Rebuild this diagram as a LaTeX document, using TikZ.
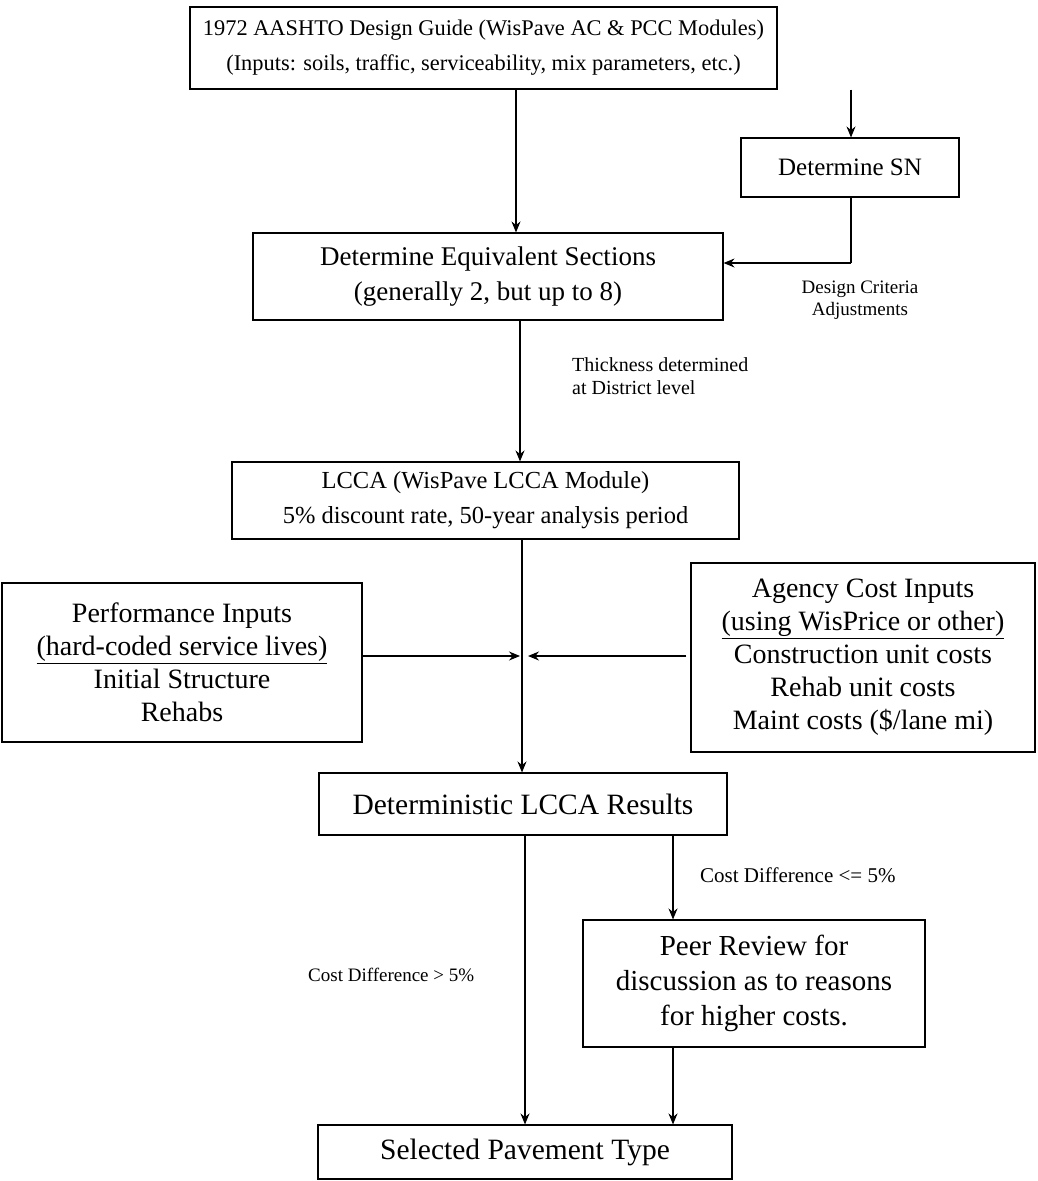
\documentclass[tikz,border=0pt]{standalone}
\usepackage{fontspec}
\setmainfont{Liberation Serif}
\usetikzlibrary{arrows.meta}

\tikzset{
  box/.style={draw,line width=1.1pt,align=center,inner sep=0pt},
  lbl/.style={inner sep=0pt},
  arr/.style={line width=1.1pt,-{Stealth[length=11pt,width=9pt]}}
}
\newcommand{\fs}[2]{\fontsize{#1}{#2}\selectfont}

\begin{document}
\begin{tikzpicture}[x=1pt,y=-1pt]
\useasboundingbox (0,0) rectangle (1037,1181);

% boxes
\node[box,font=\fs{22.4}{35},minimum width=587,minimum height=82] (top) at (483.5,48)
  {1972 AASHTO Design Guide (WisPave AC \& PCC Modules)\\(Inputs: soils, traffic, serviceability, mix parameters, etc.)};
\node[box,font=\fs{25}{34},minimum width=218,minimum height=59] (sn) at (850,167.5) {Determine SN};
\node[box,font=\fs{27}{35},minimum width=470,minimum height=87] (equiv) at (488,276.5)
  {Determine Equivalent Sections\\(generally 2, but up to 8)};
\node[box,font=\fs{24.5}{35},minimum width=507,minimum height=77] (lcca) at (485.5,500.5)
  {LCCA (WisPave LCCA Module)\\5\% discount rate, 50-year analysis period};
\node[box,font=\fs{28}{33},minimum width=360,minimum height=159] (perf) at (182,662.5)
  {Performance Inputs\\\underline{(hard-coded service lives)}\\Initial Structure\\Rehabs};
\node[box,font=\fs{28}{33},minimum width=344,minimum height=189] (agency) at (863,657.5)
  {Agency Cost Inputs\\\underline{(using WisPrice or other)}\\Construction unit costs\\Rehab unit costs\\Maint costs (\$/lane mi)};
\node[box,font=\fs{29.5}{35},minimum width=408,minimum height=62] (result) at (523,804) {Deterministic LCCA Results};
\node[box,font=\fs{29}{35},minimum width=342,minimum height=127] (peer) at (754,983.5)
  {Peer Review for\\discussion as to reasons\\for higher costs.};
\node[box,font=\fs{29.5}{35},minimum width=414,minimum height=54] (select) at (525,1152) {Selected Pavement Type};

% connectors
\coordinate (merge) at (522,656);
\coordinate (turn) at (851,263);
\draw[arr] ([xshift=32.5]top.south) -- ([xshift=32.5]top.south |- equiv.north);
\draw[arr] ([xshift=367.5]top.south) -- ([xshift=367.5]top.south |- sn.north);
\draw[line width=1.1pt] ([xshift=1]sn.south) -- (turn);
\draw[arr] (turn) -- (turn -| equiv.east);
\draw[arr] ([xshift=32]equiv.south) -- ([xshift=32]equiv.south |- lcca.north);
\draw[arr] ([xshift=36.5]lcca.south) -- ([xshift=36.5]lcca.south |- result.north);
\draw[arr] (perf.east |- merge) -- ([xshift=-2]merge);
\draw[arr] ([xshift=-4]agency.west |- merge) -- ([xshift=6]merge);
\draw[arr] ([xshift=2]result.south) -- ([xshift=2]result.south |- select.north);
\draw[arr] ([xshift=150]result.south) -- ([xshift=150]result.south |- peer.north);
\draw[arr] ([xshift=-81]peer.south) -- ([xshift=-81]peer.south |- select.north);

% labels
\node[lbl,font=\fs{19}{22},align=center] (crit) at (860,300) {Design Criteria\\Adjustments};
\node[lbl,font=\fs{20}{23},align=left,anchor=west] (thick) at (572,376) {Thickness determined\\at District level};
\node[lbl,font=\fs{21}{24},anchor=west] (le) at (700,875) {Cost Difference <= 5\%};
\node[lbl,font=\fs{19}{22},anchor=west] (gt) at (308,975) {Cost Difference > 5\%};
\end{tikzpicture}
\end{document}
